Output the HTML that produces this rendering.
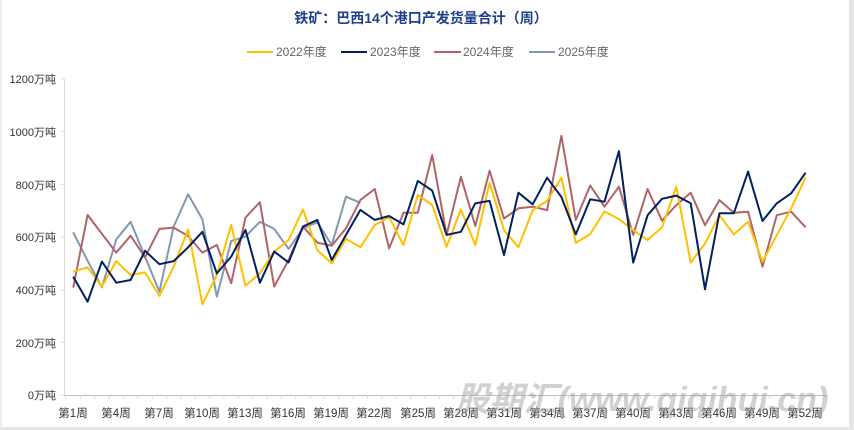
<!DOCTYPE html>
<html><head><meta charset="utf-8"><style>
body{margin:0;background:#fff;}
svg{display:block;font-family:"Liberation Sans","Noto Sans CJK SC",sans-serif;}
</style></head><body>
<svg id="s" width="854" height="430" viewBox="0 0 854 430">
<rect x="0" y="0" width="854" height="430" fill="#fff"/>
<rect x="849" y="0" width="5" height="430" fill="#e6e6e6"/>
<rect x="0" y="427" width="854" height="3" fill="#e6e6e6"/>
<rect x="0" y="0" width="2" height="430" fill="#ececec"/>
<text x="421" y="23" text-anchor="middle" font-size="14" font-weight="bold" fill="#1f3f8a">铁矿：巴西14个港口产发货量合计（周）</text>
<g font-size="12" fill="#666">
<line x1="247" y1="52" x2="273" y2="52" stroke="#FFC000" stroke-width="2"/><text x="276" y="56">2022年度</text>
<line x1="341" y1="52" x2="367" y2="52" stroke="#002060" stroke-width="2"/><text x="370" y="56">2023年度</text>
<line x1="434" y1="52" x2="461" y2="52" stroke="#B06468" stroke-width="2"/><text x="463" y="56">2024年度</text>
<line x1="529" y1="52" x2="555" y2="52" stroke="#8497B0" stroke-width="2"/><text x="558" y="56">2025年度</text>
</g>
<line x1="64.5" y1="79" x2="64.5" y2="395" stroke="#d9d9d9"/>
<line x1="64" y1="395.5" x2="827" y2="395.5" stroke="#bfbfbf"/>
<g id="ticks" stroke="#d9d9d9"></g>
<g font-size="11" fill="#333" text-anchor="end">
<text x="56" y="83">1200万吨</text><text x="56" y="136">1000万吨</text><text x="56" y="189">800万吨</text>
<text x="56" y="241">600万吨</text><text x="56" y="294">400万吨</text><text x="56" y="347">200万吨</text><text x="56" y="399">0万吨</text>
</g>
<g font-size="11.5" fill="#333" text-anchor="middle">
<text x="73" y="417">第1周</text><text x="116" y="417">第4周</text><text x="159" y="417">第7周</text><text x="202" y="417">第10周</text>
<text x="245" y="417">第13周</text><text x="288" y="417">第16周</text><text x="331" y="417">第19周</text><text x="374" y="417">第22周</text>
<text x="418" y="417">第25周</text><text x="461" y="417">第28周</text><text x="504" y="417">第31周</text><text x="547" y="417">第34周</text>
<text x="590" y="417">第37周</text><text x="633" y="417">第40周</text><text x="676" y="417">第43周</text><text x="719" y="417">第46周</text>
<text x="762" y="417">第49周</text><text x="805" y="417">第52周</text>
</g>
<g id="lines" fill="none" stroke-width="2" stroke-linejoin="round"></g>
<text x="642" y="411" text-anchor="middle" font-size="34" font-weight="bold" font-style="italic" fill="#999" fill-opacity="0.45">股期汇(www.qiqihui.cn)</text>
</svg>
<script>
var d22=[469,485,412,509,456,466,377,488,629,345,456,646,415,463,545,589,705,551,500,593,561,646,675,570,760,721,563,705,570,806,626,561,702,737,825,578,611,697,668,626,589,637,791,503,575,683,610,658,507,607,709,826];
var d23=[450,355,507,427,437,548,497,509,561,620,462,526,627,427,545,504,640,665,513,608,703,665,680,648,813,776,608,620,728,737,532,768,724,825,752,610,743,734,926,503,683,745,757,728,402,690,690,848,661,728,766,844];
var d24=[408,684,612,541,605,523,631,636,604,541,570,425,674,732,412,513,640,579,567,633,741,782,557,692,692,911,608,829,642,852,670,709,715,702,984,665,795,715,791,608,782,662,721,768,645,740,692,696,488,683,696,637];
var d25=[618,510,409,591,658,526,393,640,762,667,374,585,602,658,631,555,633,656,570,753,730];
function X(i){return 73.2+i*14.36;}function Y(v){return 395.3-v*0.26375;}
var g=document.getElementById('lines'),ns='http://www.w3.org/2000/svg';
[[d25,'#8497B0'],[d24,'#B06468'],[d22,'#FFC000'],[d23,'#002060']].forEach(function(a){
var p=document.createElementNS(ns,'polyline');p.setAttribute('points',a[0].map(function(v,i){return X(i).toFixed(1)+','+Y(v).toFixed(1)}).join(' '));
p.setAttribute('stroke',a[1]);g.appendChild(p);});
var t=document.getElementById('ticks');
for(var k=0;k<=6;k++){var l=document.createElementNS(ns,'line');var y=Y(k*200);l.setAttribute('x1',61);l.setAttribute('x2',64);l.setAttribute('y1',y);l.setAttribute('y2',y);t.appendChild(l);}
for(var k=0;k<=53;k++){var l=document.createElementNS(ns,'line');var x=66+k*14.36;l.setAttribute('x1',x);l.setAttribute('x2',x);l.setAttribute('y1',395);l.setAttribute('y2',399);t.appendChild(l);}
</script>
</body></html>
